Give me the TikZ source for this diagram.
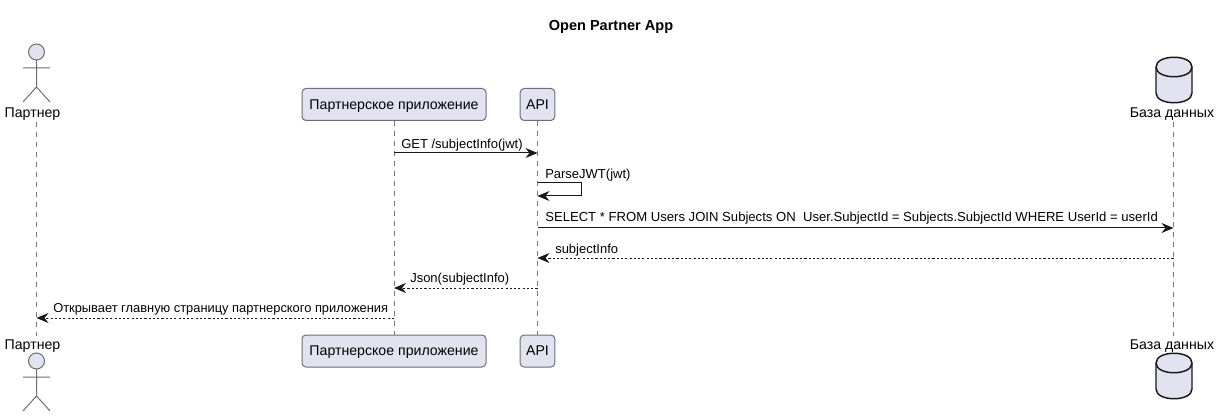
\documentclass[tikz,border=0pt]{standalone}
\usepackage{fontspec}
\setmainfont{Liberation Sans}
\usetikzlibrary{arrows.meta,calc}
\definecolor{partfill}{HTML}{E2E2F0}
\definecolor{partline}{HTML}{6E6E6E}
\definecolor{lifecol}{HTML}{777777}
\definecolor{inkcol}{HTML}{181818}
\tikzset{
  x=0.75pt,y=-0.75pt,
  partbox/.style={draw=partline,fill=partfill,rounded corners=3pt,line width=0.75pt,minimum height=24pt,inner sep=0pt,text depth=0pt,font=\fontsize{10.6pt}{12pt}\selectfont,text=black},
  lbl/.style={inner sep=0pt,text depth=0pt,font=\fontsize{10.6pt}{12pt}\selectfont,text=black},
  msgtxt/.style={inner sep=0pt,anchor=base west,font=\fontsize{9.75pt}{11pt}\selectfont,text=black},
  lifeline/.style={draw=lifecol,line width=0.6pt,dash pattern=on 3.75pt off 3.75pt},
  tip/.style={-{Stealth[length=9pt,width=7.5pt,inset=3pt]}},
  msg/.style={draw=inkcol,line width=0.75pt,tip},
  ret/.style={draw=inkcol,line width=0.6pt,dash pattern=on 1.6pt off 1.6pt,-{Stealth[length=9pt,width=7.5pt,inset=3pt,sep=0pt]}},
  stick/.style={draw=partline,line width=0.75pt},
  dbline/.style={draw=inkcol,line width=1.1pt},
}
\newcommand{\stickman}[2]{%
  \draw[stick,fill=partfill] (#1,#2) circle[radius=8];
  \draw[stick] (#1,#2+8) -- (#1,#2+35) (#1-13.5,#2+16) -- (#1+13.5,#2+16)
     (#1-13.5,#2+50) -- (#1,#2+35) -- (#1+13.5,#2+50);
}
\newcommand{\dbcyl}[2]{%
  \fill[partfill] (#1-18,#2+10) .. controls (#1-18,#2-3) and (#1+18,#2-3) .. (#1+18,#2+10) -- (#1+18,#2+36) .. controls (#1+18,#2+49) and (#1-18,#2+49) .. (#1-18,#2+36) -- cycle;
  \draw[dbline] (#1-18,#2+10) .. controls (#1-18,#2-3) and (#1+18,#2-3) .. (#1+18,#2+10) -- (#1+18,#2+36) .. controls (#1+18,#2+49) and (#1-18,#2+49) .. (#1-18,#2+36) -- cycle;
  \draw[dbline] (#1-18,#2+10) .. controls (#1-18,#2+23) and (#1+18,#2+23) .. (#1+18,#2+10);
}
\begin{document}
\begin{tikzpicture}
\useasboundingbox (0,0) rectangle (1218,417);
% title
\node[inner sep=0pt,text depth=0pt,font=\bfseries\fontsize{10.9pt}{12pt}\selectfont] (title) at (611,25.5) {Open Partner App};
% participant heads
\node[lbl] (a1) at (32.5,113) {Партнер};
\node[lbl] (a2) at (32.5,345) {Партнер};
\node[lbl] (d1) at (1172,113) {База данных};
\node[lbl] (d2) at (1172,345) {База данных};
\coordinate (at) at (36.5,122); \coordinate (ab) at (36.5,336);
\coordinate (dt) at (1173.5,122); \coordinate (db) at (1173.5,336);
\node[partbox,minimum width=138pt] (p1) at (394,104.5) {Партнерское приложение};
\node[partbox,minimum width=138pt] (p2) at (394,351) {Партнерское приложение};
\node[partbox,minimum width=26pt] (i1) at (537.5,104.5) {API};
\node[partbox,minimum width=26pt] (i2) at (537.5,351) {API};
\draw[lifeline] (at) -- (ab);
\draw[lifeline] (p1) -- (p2);
\draw[lifeline] (i1) -- (i2);
\draw[lifeline] (dt) -- (db);
\stickman{36.5}{52}
\stickman{36.5}{361}
\dbcyl{1174}{57}
\dbcyl{1174}{353}
% message rows
\coordinate (r1) at (0,153); \coordinate (r2a) at (0,183); \coordinate (r2b) at (0,196);
\coordinate (r3) at (0,228); \coordinate (r4) at (0,258); \coordinate (r5) at (0,288); \coordinate (r6) at (0,318);
\draw[msg] (p1 |- r1) -- (i1 |- r1);
\draw[msg] (i1 |- r2a) -- (581,183) -- (581,196) -- (i1 |- r2b);
\draw[msg] (i1 |- r3) -- (dt |- r3);
\draw[ret] (dt |- r4) -- (i1 |- r4);
\draw[ret] (i1 |- r5) -- (p1 |- r5);
\draw[ret] (p1 |- r6) -- (at |- r6);
\node[msgtxt] (t1) at (401,149) {GET /subjectInfo(jwt)};
\node[msgtxt] (t2) at (545,179) {ParseJWT(jwt)};
\node[msgtxt,font=\fontsize{9.83pt}{11pt}\selectfont] (t3) at (545,222) {SELECT * FROM Users JOIN Subjects ON\ \ User.SubjectId = Subjects.SubjectId WHERE UserId = userId};
\node[msgtxt] (t4) at (555,253) {subjectInfo};
\node[msgtxt] (t5) at (410,282) {Json(subjectInfo)};
\node[msgtxt,font=\fontsize{9.65pt}{11pt}\selectfont] (t6) at (53,312.5) {Открывает главную страницу партнерского приложения};
\end{tikzpicture}
\end{document}
